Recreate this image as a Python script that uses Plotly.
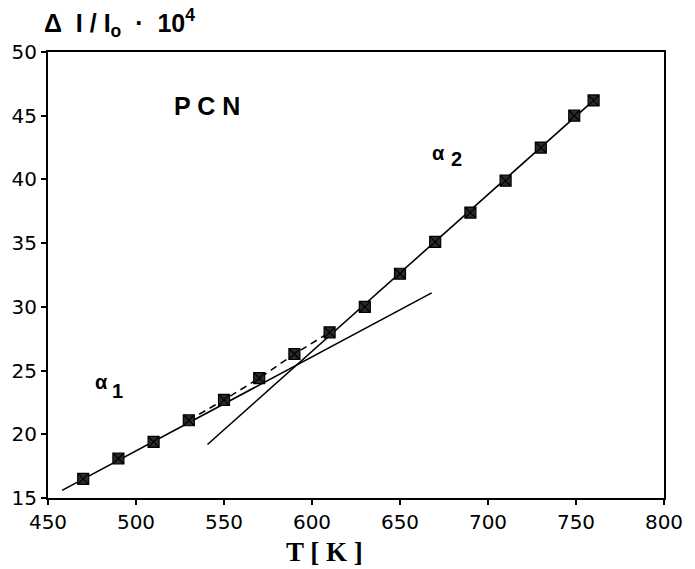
import plotly.graph_objects as go

# Measured data points
T = [470, 490, 510, 530, 550, 570, 590, 610, 630, 650, 670, 690, 710, 730, 749, 760]
dI = [16.5, 18.1, 19.4, 21.1, 22.7, 24.4, 26.3, 28.0, 30.0, 32.6, 35.1, 37.4, 39.9, 42.5, 45.0, 46.2]

# Tangent lines (alpha_1 and alpha_2)
tan1_T = [458, 668]
tan1_v = [15.6, 31.1]
tan2_T = [540.6, 760]
tan2_v = [19.2, 46.2]

# Dashed transition curve
trans_T = [530, 550, 570, 590, 610]
trans_v = [21.1, 22.7, 24.4, 26.3, 28.0]

x_ticks = [450, 500, 550, 600, 650, 700, 750, 800]
y_ticks = [15, 20, 25, 30, 35, 40, 45, 50]

fig = go.Figure()
fig.add_trace(go.Scatter(x=tan1_T, y=tan1_v, mode="lines",
                         line=dict(color="black", width=1.6), showlegend=False))
fig.add_trace(go.Scatter(x=tan2_T, y=tan2_v, mode="lines",
                         line=dict(color="black", width=1.6), showlegend=False))
fig.add_trace(go.Scatter(x=trans_T, y=trans_v, mode="lines",
                         line=dict(color="black", width=1.5, dash="7px,5px"), showlegend=False))
fig.add_trace(go.Scatter(x=T, y=dI, mode="markers",
                         marker=dict(symbol="square-x", size=11, color="#2a2a2a",
                                     line=dict(color="black", width=1.2)),
                         showlegend=False))

tickfont = dict(family="DejaVu Sans, Verdana, sans-serif", size=20, color="black")
fig.update_xaxes(range=[450, 800], tickvals=x_ticks, ticks="outside", ticklen=5,
                 tickwidth=1.5, tickcolor="black", showline=True, linecolor="black",
                 linewidth=2, mirror=True, showgrid=False, zeroline=False,
                 tickfont=tickfont)
fig.update_yaxes(range=[15, 50], tickvals=y_ticks, ticks="outside", ticklen=5,
                 tickwidth=1.5, tickcolor="black", showline=True, linecolor="black",
                 linewidth=2, mirror=True, showgrid=False, zeroline=False,
                 tickfont=tickfont)

bold_sans = "Liberation Sans, Arial, sans-serif"
annots = [
    dict(text="<b>Δ  I / I<sub>o</sub>  ·  10<sup>4</sup></b>", xref="paper", yref="paper",
         x=0.1155, y=1.066, xanchor="center", yanchor="middle", showarrow=False,
         font=dict(family=bold_sans, size=25, color="black")),
    dict(text="<b>T [ K ]</b>", xref="paper", yref="paper", x=0.449, y=-0.122,
         xanchor="center", yanchor="middle", showarrow=False,
         font=dict(family="Liberation Serif, Times New Roman, serif", size=27, color="black")),
    dict(text="<b>P C N</b>", x=540.3, y=45.8, showarrow=False,
         font=dict(family=bold_sans, size=25, color="black")),
    dict(text="<b>α</b>", x=480.5, y=24.1, showarrow=False,
         font=dict(family=bold_sans, size=20, color="black")),
    dict(text="<b>1</b>", x=489.3, y=23.4, showarrow=False,
         font=dict(family=bold_sans, size=20, color="black")),
    dict(text="<b>α</b>", x=672, y=42.05, showarrow=False,
         font=dict(family=bold_sans, size=20, color="black")),
    dict(text="<b>2</b>", x=682, y=41.6, showarrow=False,
         font=dict(family=bold_sans, size=20, color="black")),
]

fig.update_layout(width=695, height=569, margin=dict(l=43, r=20, t=52, b=71),
                  paper_bgcolor="white", plot_bgcolor="white", annotations=annots)

fig.write_html("out.html")
